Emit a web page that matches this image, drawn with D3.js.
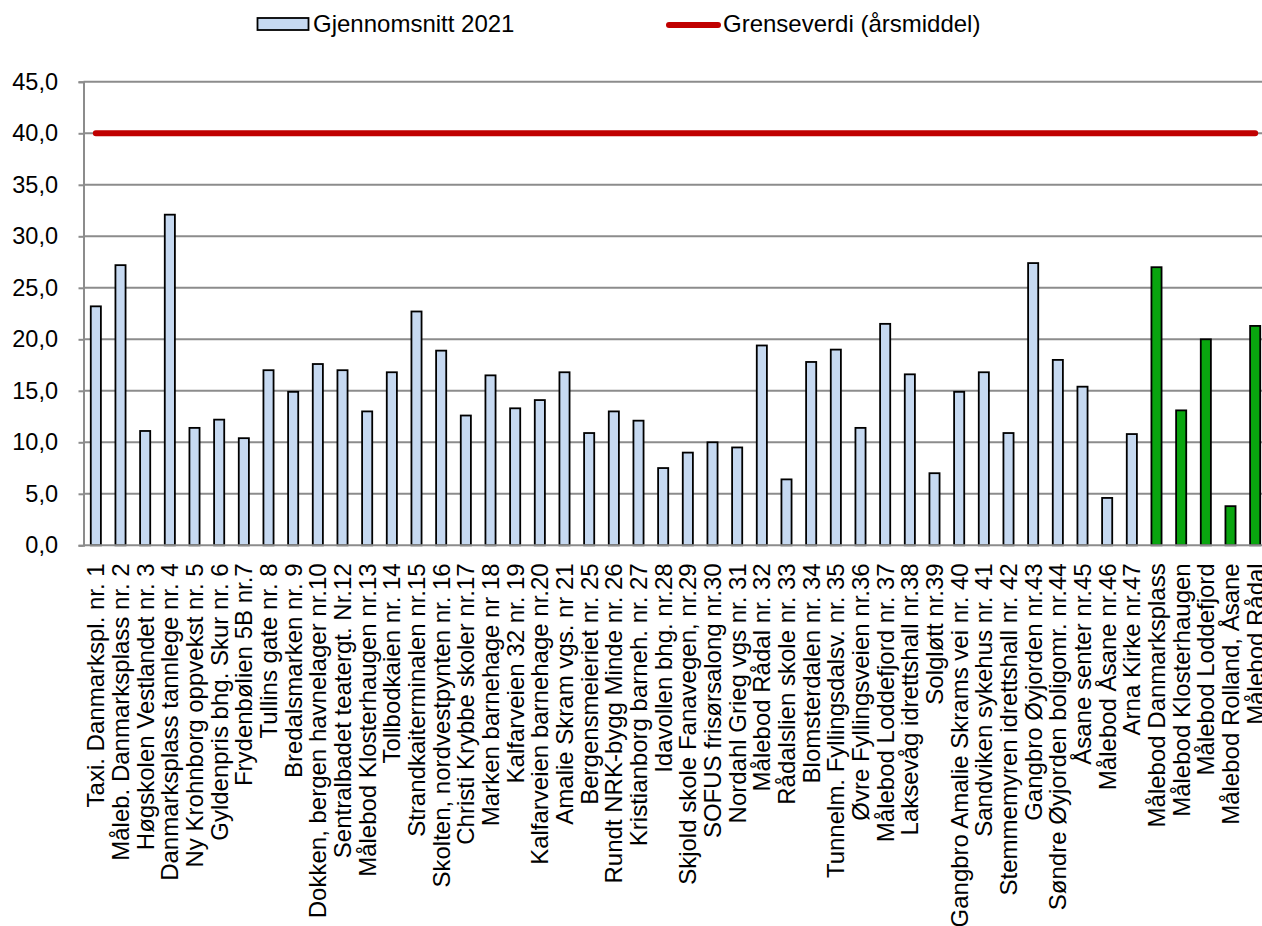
<!DOCTYPE html>
<html lang="no">
<head>
<meta charset="utf-8">
<title>NO2 – gjennomsnitt 2021</title>
<script src="https://cdn.jsdelivr.net/npm/d3@7"></script>
<style>
  html, body { margin: 0; padding: 0; background: #ffffff; overflow: hidden; }
  svg { display: block; font-family: "Liberation Sans", Arial, sans-serif; }
</style>
</head>
<body>
<svg id="chart" width="1262" height="926"></svg>
<script>
// Passive samplers (light blue bars)
const samplerNames = [
  "Taxi. Danmarkspl. nr. 1",
  "Måleb. Danmarksplass nr. 2",
  "Høgskolen Vestlandet nr. 3",
  "Danmarksplass tannlege nr. 4",
  "Ny Krohnborg oppvekst nr. 5",
  "Gyldenpris bhg. Skur nr. 6",
  "Frydenbølien 5B nr.7",
  "Tullins gate nr. 8",
  "Bredalsmarken nr. 9",
  "Dokken, bergen havnelager nr.10",
  "Sentralbadet teatergt. Nr.12",
  "Målebod Klosterhaugen nr.13",
  "Tollbodkaien nr. 14",
  "Strandkaiterminalen nr.15",
  "Skolten, nordvestpynten nr. 16",
  "Christi Krybbe skoler nr.17",
  "Marken barnehage nr 18",
  "Kalfarveien 32 nr. 19",
  "Kalfarveien barnehage nr.20",
  "Amalie Skram vgs. nr 21",
  "Bergensmeieriet nr. 25",
  "Rundt NRK-bygg Minde nr. 26",
  "Kristianborg barneh. nr. 27",
  "Idavollen bhg. nr.28",
  "Skjold skole Fanavegen, nr.29",
  "SOFUS frisørsalong nr.30",
  "Nordahl Grieg vgs nr. 31",
  "Målebod Rådal nr. 32",
  "Rådalslien skole nr. 33",
  "Blomsterdalen nr. 34",
  "Tunnelm. Fyllingsdalsv. nr. 35",
  "Øvre Fyllingsveien nr.36",
  "Målebod Loddefjord nr. 37",
  "Laksevåg idrettshall nr.38",
  "Solgløtt nr.39",
  "Gangbro Amalie Skrams vei nr. 40",
  "Sandviken sykehus nr. 41",
  "Stemmemyren idrettshall nr. 42",
  "Gangbro Øyjorden nr.43",
  "Søndre Øyjorden boligomr. nr.44",
  "Åsane senter nr.45",
  "Målebod Åsane nr.46",
  "Arna Kirke nr.47"
];
const samplerValues = [
  23.2, 27.2, 11.1, 32.1, 11.4, 12.2, 10.4, 17.0, 14.9, 17.6,
  17.0, 13.0, 16.8, 22.7, 18.9, 12.6, 16.5, 13.3, 14.1, 16.8,
  10.9, 13.0, 12.1, 7.5, 9.0, 10.0, 9.5, 19.4, 6.4, 17.8,
  19.0, 11.4, 21.5, 16.6, 7.0, 14.9, 16.8, 10.9, 27.4, 18.0,
  15.4, 4.6, 10.8
];

// Continuous monitoring stations (green bars)
const stationNames = [
  "Målebod Danmarksplass",
  "Målebod Klosterhaugen",
  "Målebod Loddefjord",
  "Målebod Rolland, Åsane",
  "Målebod Rådal"
];
const stationValues = [27.0, 13.1, 20.0, 3.8, 21.3];

// Annual mean limit value
const limitValue = 40;

// Y axis ticks
const yTicks = [0, 5, 10, 15, 20, 25, 30, 35, 40, 45];

// Legend labels
const legendLabels = ["Gjennomsnitt 2021", "Grenseverdi (årsmiddel)"];

const colors = {
  sampler: "#C6D9F1",
  station: "#09A50F",
  limit: "#C00000",
  grid: "#8C8C8C",
  text: "#000000"
};

// Combined table for drawing
const rows = samplerNames.map((name, i) => ({ name, value: samplerValues[i], kind: "sampler" }))
  .concat(stationNames.map((name, i) => ({ name, value: stationValues[i], kind: "station" })));

const svg = d3.select("#chart");

const plot = { left: 83.5, right: 1267.5, top: 81.8, bottom: 545.3 };

const x = d3.scaleBand()
  .domain(rows.map(d => d.name))
  .range([plot.left, plot.right])
  .paddingInner(0.59)
  .paddingOuter(0.295);

const y = d3.scaleLinear()
  .domain([0, 45])
  .range([plot.bottom, plot.top]);

const fontSize = 23.5;
const catFontSize = 24;

// Horizontal gridlines
svg.append("g")
  .attr("class", "grid")
  .selectAll("line")
  .data(yTicks.filter(t => t > 0))
  .join("line")
  .attr("x1", plot.left)
  .attr("x2", plot.right)
  .attr("y1", d => y(d))
  .attr("y2", d => y(d))
  .attr("stroke", colors.grid)
  .attr("stroke-width", 2);

// Y axis
const yAxis = d3.axisLeft(y)
  .tickValues(yTicks)
  .tickSize(5)
  .tickPadding(20)
  .tickFormat(d => d3.format(".1f")(d).replace(".", ","));

const gy = svg.append("g")
  .attr("transform", `translate(${plot.left},0)`)
  .call(yAxis);
gy.select(".domain").attr("stroke", colors.grid).attr("stroke-width", 2);
gy.selectAll(".tick line").attr("stroke", colors.grid).attr("stroke-width", 2);
gy.selectAll(".tick text")
  .attr("fill", colors.text)
  .style("font-size", fontSize + "px")
  .attr("x", -25.5);

// Bars
svg.append("g")
  .attr("class", "bars")
  .selectAll("rect")
  .data(rows)
  .join("rect")
  .attr("x", d => x(d.name))
  .attr("width", x.bandwidth())
  .attr("y", d => y(d.value))
  .attr("height", d => y(0) - y(d.value))
  .attr("fill", d => d.kind === "station" ? colors.station : colors.sampler)
  .attr("stroke", "#000")
  .attr("stroke-width", 1.8);

// X axis baseline
svg.append("line")
  .attr("x1", plot.left)
  .attr("x2", plot.right)
  .attr("y1", y(0))
  .attr("y2", y(0))
  .attr("stroke", colors.grid)
  .attr("stroke-width", 2);

// Category labels, rotated
const xAxis = d3.axisBottom(x).tickSize(0).tickPadding(0);
const gx = svg.append("g")
  .attr("transform", `translate(0,${y(0)})`)
  .call(xAxis);
gx.select(".domain").remove();
gx.selectAll(".tick text")
  .attr("fill", colors.text)
  .style("font-size", catFontSize + "px")
  .attr("text-anchor", "end")
  .attr("transform", "translate(0,18) rotate(-90)")
  .attr("x", 0)
  .attr("y", 0)
  .attr("dy", "0.35em");

// Limit value line across all categories
const limitLine = d3.line()
  .x(d => x(d.name) + x.bandwidth() / 2)
  .y(() => y(limitValue));

svg.append("path")
  .datum(rows)
  .attr("d", limitLine)
  .attr("fill", "none")
  .attr("stroke", colors.limit)
  .attr("stroke-width", 6)
  .attr("stroke-linecap", "round");

// Legend
const legend = svg.append("g").attr("class", "legend");
legend.append("rect")
  .attr("x", 257.5)
  .attr("y", 18)
  .attr("width", 51)
  .attr("height", 12)
  .attr("fill", colors.sampler)
  .attr("stroke", "#000")
  .attr("stroke-width", 1.8);
legend.append("text")
  .attr("x", 313)
  .attr("y", 24)
  .attr("dy", "0.35em")
  .style("font-size", "24px")
  .attr("fill", colors.text)
  .text(legendLabels[0]);
legend.append("line")
  .attr("x1", 669)
  .attr("x2", 718)
  .attr("y1", 25)
  .attr("y2", 25)
  .attr("stroke", colors.limit)
  .attr("stroke-width", 6)
  .attr("stroke-linecap", "round");
legend.append("text")
  .attr("x", 723)
  .attr("y", 24)
  .attr("dy", "0.35em")
  .style("font-size", "24px")
  .attr("fill", colors.text)
  .text(legendLabels[1]);
</script>
</body>
</html>
